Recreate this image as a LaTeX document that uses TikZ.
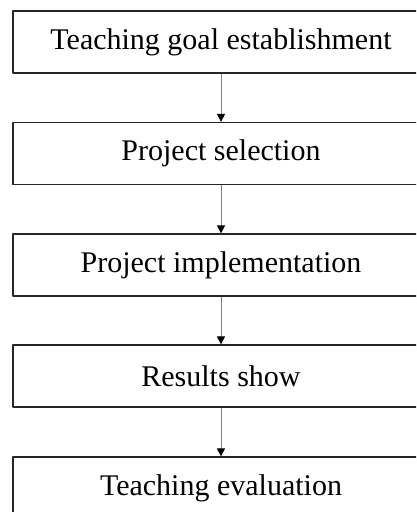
\documentclass[tikz,border=0pt]{standalone}
\usepackage{fontspec}
\setmainfont{Liberation Serif}
\usetikzlibrary{arrows.meta}
\begin{document}
\begin{tikzpicture}[x=1pt, y=-1pt, font=\fontsize{30}{32}\selectfont, line join=round,
		stage/.style={draw=black!85, line width=1.2pt, minimum width=416pt, minimum height=62pt, inner sep=0pt},
		flow/.style={draw=black!50, line width=0.9pt, -{Triangle[length=8pt,width=8pt,color=black]}}]
			\def\cx{221}
			\useasboundingbox (0,0) rectangle (416,512);
			\clip (0,0) rectangle (416,512);
			\node[stage] (goal) at (\cx,42) {Teaching goal establishment};
			\node[stage] (select) at (\cx,153.5) {Project selection};
			\node[stage] (impl) at (\cx,265) {Project implementation};
			\node[stage] (show) at (\cx,376) {Results show};
			\node[stage] (eval) at (\cx,488) {Teaching evaluation};
			\draw[flow] (goal) -- (select);
			\draw[flow] (select) -- (impl);
			\draw[flow] (impl) -- (show);
			\draw[flow] (show) -- (eval);
		\end{tikzpicture}
\end{document}
